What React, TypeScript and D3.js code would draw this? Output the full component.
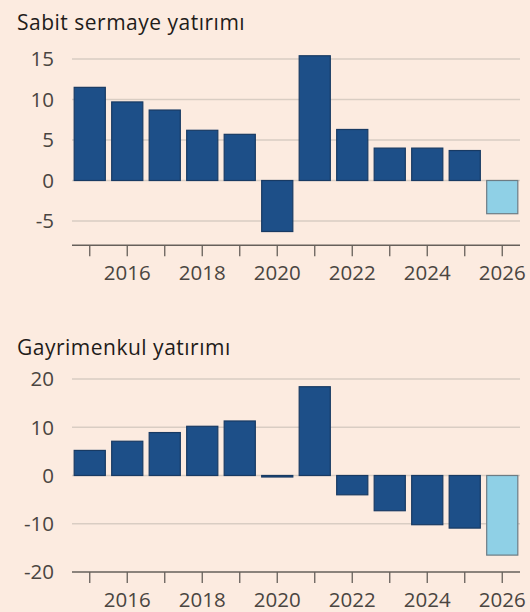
import React from "react";
import * as d3 from "d3";

const years = [2015, 2016, 2017, 2018, 2019, 2020, 2021, 2022, 2023, 2024, 2025, 2026];
const tickYears = [2016, 2018, 2020, 2022, 2024, 2026];
const fixedInvestment = [11.5, 9.7, 8.7, 6.2, 5.7, -6.3, 15.4, 6.3, 4.0, 4.0, 3.7, -4.1];
const realEstateInvestment = [5.2, 7.1, 8.9, 10.2, 11.3, -0.3, 18.4, -4.0, -7.3, -10.2, -10.9, -16.5];
const forecastYears = [2026];
const fixedTicks = [15, 10, 5, 0, -5];
const realEstateTicks = [20, 10, 0, -10, -20];

const W = 530;
const H = 612;
const BG = "#fcebe0";
const DARK = "#1d4f88";
const DARK_STROKE = "#183a63";
const LIGHT = "#8fd0e6";
const LIGHT_STROKE = "#6d7c84";
const GRID = "#d9cdc3";
const AXIS = "#66605b";
const TEXT = "#4a4541";
const FONT = "'Open Sans', 'Noto Sans', sans-serif";

const x = d3.scaleBand<number>().domain(years).range([71, 521]).paddingInner(0.17).paddingOuter(0.085);

type PanelProps = {
  title: string;
  titleY: number;
  values: number[];
  ticks: number[];
  domain: [number, number];
  yRange: [number, number];
};

function Panel({ title, titleY, values, ticks, domain, yRange }: PanelProps) {
  const y = d3.scaleLinear().domain(domain).range(yRange);
  const axisY = y(domain[0]);
  const gridX0 = 72;
  const gridX1 = 520;
  return (
    <g>
      <text x={17} y={titleY} fontSize={21} letterSpacing={0.5} fill="#1f1c1a" fontFamily={FONT}>
        {title}
      </text>
      {ticks.filter((t) => t !== domain[0]).map((t) => (
        <line key={"g" + t} x1={gridX0} x2={gridX1} y1={y(t)} y2={y(t)} stroke={GRID} strokeWidth={1.5} />
      ))}
      {ticks.map((t) => (
        <text
          key={"t" + t}
          x={54}
          y={y(t)}
          dy="0.36em"
          textAnchor="end"
          fontSize={20.5}
          fill={TEXT}
          fontFamily={FONT}
        >
          {t}
        </text>
      ))}
      {values.map((v, i) => {
        const yr = years[i];
        const isF = forecastYears.includes(yr);
        const y0 = y(0);
        const y1 = y(v);
        return (
          <rect
            key={yr}
            x={x(yr)!}
            width={x.bandwidth()}
            y={Math.min(y0, y1)}
            height={Math.max(Math.abs(y1 - y0), 1.5)}
            fill={isF ? LIGHT : DARK}
            stroke={isF ? LIGHT_STROKE : DARK_STROKE}
            strokeWidth={1.2}
          />
        );
      })}
      <line x1={gridX0} x2={gridX1} y1={axisY} y2={axisY} stroke={AXIS} strokeWidth={1.5} />
      {years.map((yr) => {
        const cx = x(yr)! + x.bandwidth() / 2;
        return <line key={"k" + yr} x1={cx} x2={cx} y1={axisY} y2={axisY + 11} stroke={AXIS} strokeWidth={1.3} />;
      })}
      {tickYears.map((yr) => (
        <text
          key={"l" + yr}
          x={x(yr)! + x.bandwidth() / 2}
          y={axisY + 35}
          textAnchor="middle"
          fontSize={20.5}
          fill={TEXT}
          fontFamily={FONT}
        >
          {yr}
        </text>
      ))}
    </g>
  );
}

export default function App() {
  return (
    <svg width={W} height={H} style={{ position: "absolute", left: 0, top: 0, background: BG }}>
      <rect width={W} height={H} fill={BG} />
      <Panel
        title="Sabit sermaye yatırımı"
        titleY={30}
        values={fixedInvestment}
        ticks={fixedTicks}
        domain={[-8, 15]}
        yRange={[245.3, 59]}
      />
      <Panel
        title="Gayrimenkul yatırımı"
        titleY={355}
        values={realEstateInvestment}
        ticks={realEstateTicks}
        domain={[-20, 20]}
        yRange={[572, 379]}
      />
    </svg>
  );
}
